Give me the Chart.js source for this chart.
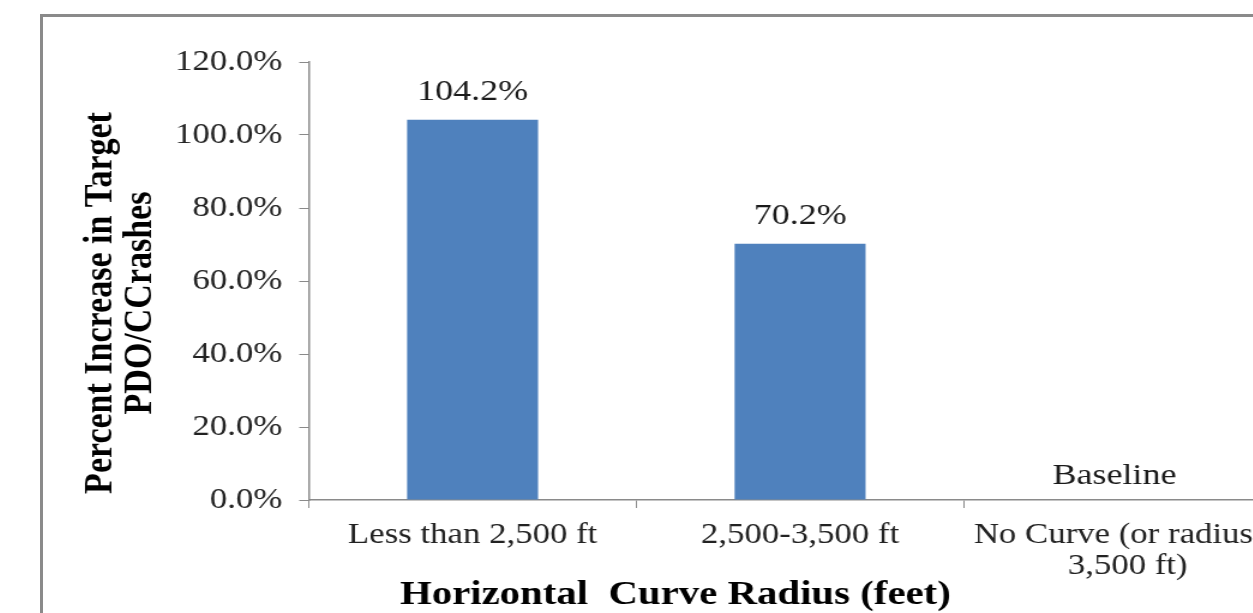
<!DOCTYPE html>
<html>
<head>
<meta charset="utf-8">
<script src="https://cdn.jsdelivr.net/npm/chart.js@4/dist/chart.umd.min.js"></script>
<style>
  html, body { margin: 0; padding: 0; background: #fff; overflow: hidden; }
  #frame {
    position: absolute; left: 40px; top: 14px;
    width: 1400px; height: 700px;
    border-top: 3px solid #8a8a8a; border-left: 3px solid #8a8a8a;
  }
  #chart { position: absolute; left: 0; top: 0; transform: scaleX(1.2); transform-origin: 0 0; }
</style>
</head>
<body>
<div id="frame"><canvas id="chart" width="1043" height="596"></canvas></div>
<script>
const categories = [
  "Less than 2,500 ft",
  "2,500-3,500 ft",
  ["No Curve (or radius >", "3,500 ft)"]
];
const increaseValues = [104.2, 70.2, 0];
const barLabels = ["104.2%", "70.2%", "Baseline"];
const yTickValues = [0, 20, 40, 60, 80, 100, 120];
const xTitle = "Horizontal  Curve Radius (feet)";
const yTitle = ["Percent Increase in Target", "PDO/CCrashes"];

const serif = "'Liberation Serif', 'Times New Roman', serif";

// value labels above each bar
const barLabelPlugin = {
  id: "barLabels",
  afterDatasetsDraw(chart) {
    const ctx = chart.ctx;
    const meta = chart.getDatasetMeta(0);
    ctx.save();
    ctx.font = "30px " + serif;
    ctx.fillStyle = "#1a1a1a";
    ctx.textAlign = "center";
    ctx.textBaseline = "middle";
    meta.data.forEach((bar, i) => {
      const base = increaseValues[i] === 0;
      ctx.fillText(barLabels[i], bar.x - (base ? 11 : 0), bar.y - (base ? 24 : 28));
    });
    ctx.restore();
  }
};

// axis titles, placed like the original
const axisTitlePlugin = {
  id: "axisTitles",
  afterDraw(chart) {
    const ctx = chart.ctx;
    ctx.save();
    ctx.fillStyle = "#000";
    ctx.font = "bold 34px " + serif;
    ctx.textAlign = "center";
    ctx.textBaseline = "middle";
    ctx.fillText(xTitle, 527, 578);
    ctx.translate(0, 286);
    ctx.rotate(-Math.PI / 2);
    ctx.fillText(yTitle[0], 0, 48);
    ctx.fillText(yTitle[1], 0, 81);
    ctx.restore();
  }
};

new Chart(document.getElementById("chart"), {
  type: "bar",
  data: {
    labels: categories,
    datasets: [{
      data: increaseValues,
      backgroundColor: "#4F81BD",
      barPercentage: 0.4,
      categoryPercentage: 1
    }]
  },
  options: {
    responsive: false,
    animation: false,
    layout: { padding: { top: 45, right: 0, bottom: 0, left: 0 } },
    plugins: { legend: { display: false }, tooltip: { enabled: false } },
    scales: {
      x: {
        afterFit: (s) => { s.height = 113; },
        grid: { drawOnChartArea: false, drawTicks: true, tickLength: 8, color: "#8a8a8a", offset: true },
        border: { color: "#8a8a8a", width: 1.5 },
        ticks: {
          color: "#222",
          padding: 11,
          maxRotation: 0,
          font: { family: serif, size: 29, lineHeight: 1.1 }
        }
      },
      y: {
        min: 0,
        max: 120,
        afterFit: (s) => { s.width = 221.5; },
        afterBuildTicks: (s) => { s.ticks = yTickValues.map(v => ({ value: v })); },
        grid: { drawOnChartArea: false, drawTicks: true, tickLength: 8, color: "#8a8a8a" },
        border: { color: "#8a8a8a", width: 1.5 },
        ticks: {
          color: "#222",
          padding: 14,
          font: { family: serif, size: 29 },
          callback: (v) => v.toFixed(1) + "%"
        }
      }
    }
  },
  plugins: [barLabelPlugin, axisTitlePlugin]
});
</script>
</body>
</html>
